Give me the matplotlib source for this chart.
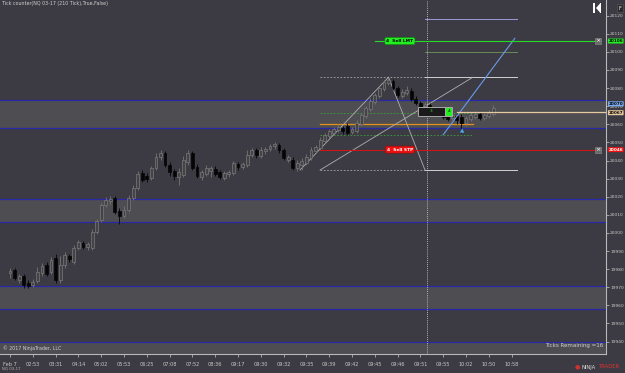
import numpy as np
import matplotlib.pyplot as plt
from matplotlib.patches import Rectangle, Polygon

# NQ 03-17, 210 tick bars
opens = [19977.75, 19979.5, 19974, 19976.25, 19972.25, 19971.25, 19973.5, 19977.75, 19982.25, 19978.5,
         19986, 19974, 19982.25, 19987.25, 19984, 19991.75, 19994.5, 19992.25, 19991.75, 20000.5,
         20007, 20015.5, 20017.5, 20019.25, 20012, 20009.25, 20012.5, 20019.25, 20024.75, 20033,
         20031.5, 20030.25, 20036, 20042, 20044.25, 20037.5, 20034.25, 20030.75, 20032, 20039.25,
         20044.25, 20036.5, 20030.75, 20032.5, 20034.25, 20035.25, 20033.5, 20030.25, 20032.5, 20033,
         20038, 20036.5, 20037.5, 20043, 20045.75, 20042.5, 20045.25, 20046.25, 20048, 20048.5,
         20045.75, 20040.25, 20040.25, 20036, 20037.5, 20038.5, 20041.5, 20045.25, 20047, 20050.75,
         20053.5, 20055.25, 20056.75, 20058, 20059, 20055.75, 20056.25, 20060.25, 20064.5, 20068.5,
         20072.25, 20075.5, 20079.5, 20082.75, 20084, 20080, 20075.5, 20077.25, 20078.5, 20074,
         20071.75, 20070, 20070.75, 20067.75, 20066.25, 20066.75, 20064.5, 20063.5, 20064.5, 20064,
         20060.75, 20063, 20064, 20065.75, 20063.5, 20064.5, 20065.75]
highs = [19980.5, 19980.5, 19977.25, 19977.25, 19974, 19974.5, 19981.25, 19983.5, 19984, 19986.75,
         19988.25, 19987.25, 19989.5, 19988.25, 19993.25, 19996, 19995.5, 19995, 20002, 20007.75,
         20016.5, 20019.75, 20020.5, 20020.5, 20013.75, 20015, 20021, 20026.5, 20034.25, 20034.75,
         20033, 20037, 20044.25, 20045.75, 20045.25, 20039.25, 20035.25, 20035.75, 20042.5, 20045.75,
         20045.25, 20038, 20034.75, 20037.5, 20037, 20037, 20034.75, 20034.25, 20034.75, 20039.75,
         20039.25, 20039.25, 20045.75, 20047, 20047, 20047.5, 20047.5, 20049, 20050.25, 20049.75,
         20047, 20043, 20042, 20040.25, 20041.5, 20043.5, 20047.5, 20048.5, 20053, 20055.25,
         20057.5, 20058.5, 20060.25, 20059, 20060.75, 20058.5, 20062.5, 20066.25, 20070.25, 20074.5,
         20077.25, 20081.25, 20084.5, 20085.5, 20085, 20081.25, 20079.5, 20081.25, 20080, 20075.5,
         20072.75, 20072.25, 20071.75, 20069, 20068.5, 20067.75, 20065.75, 20066.25, 20066.25, 20065.75,
         20064.5, 20066.75, 20067.25, 20066.75, 20066.25, 20067.75, 20070.75]
lows = [19975, 19974, 19972.25, 19969.5, 19969.5, 19970, 19972.25, 19976.25, 19976.25, 19977.25,
        19972.25, 19972.25, 19980.5, 19984, 19982.75, 19990.5, 19991, 19990.5, 19990.5, 19999.5,
        20006, 20014.25, 20016, 20010.5, 20005, 20008.25, 20011.5, 20018.25, 20023.75, 20028.25,
        20028.25, 20029.25, 20034.75, 20040.25, 20036.5, 20031.5, 20029.25, 20026.5, 20030.75, 20037.5,
        20034.75, 20030.25, 20029.25, 20031.5, 20030.75, 20031.5, 20029.75, 20029.25, 20030.75, 20032,
        20034.75, 20035.25, 20036.5, 20042, 20041.5, 20041.5, 20043.5, 20045.25, 20046.25, 20044,
        20040.25, 20039.25, 20034.75, 20034.25, 20034.75, 20037.5, 20040.25, 20044, 20045.75, 20049.75,
        20052.5, 20054, 20055.75, 20054.5, 20054, 20054.5, 20055.25, 20059, 20063.5, 20067.25,
        20071.25, 20074.5, 20078.5, 20081.75, 20079, 20075, 20074.5, 20076.25, 20072.75, 20070.75,
        20067.75, 20069, 20066.75, 20065, 20064.5, 20063, 20061.75, 20062.5, 20060.25, 20055.25,
        20059, 20061.75, 20063, 20062.5, 20062.5, 20063.5, 20064.5]
closes = [19979, 19975, 19976.25, 19971.25, 19970.75, 19973, 19978.5, 19981.75, 19977.25, 19985,
          19974, 19982.25, 19987.75, 19985.5, 19991.75, 19995, 19992.25, 19994, 20000.5, 20006.5,
          20015.5, 20018.25, 20018.75, 20011.5, 20009.25, 20012.5, 20019.25, 20024.75, 20032.5, 20029.25,
          20029.75, 20036, 20042, 20044.25, 20037.5, 20033.5, 20031.5, 20033.5, 20040.25, 20044.25,
          20036, 20031.5, 20033.5, 20036, 20036, 20032.5, 20030.75, 20033, 20033.5, 20038.5,
          20036.5, 20038, 20043, 20045.75, 20043, 20045.75, 20046.25, 20048, 20049, 20045.75,
          20041.5, 20042, 20036, 20038.5, 20039.75, 20042, 20045.75, 20047.5, 20051.25, 20054,
          20056.25, 20057.5, 20058.5, 20056.25, 20055.25, 20057.5, 20060.75, 20065, 20069, 20072.75,
          20076.25, 20080, 20083.5, 20084.5, 20080, 20076.25, 20077.75, 20079, 20074, 20071.75,
          20069.5, 20071.25, 20067.75, 20066.25, 20067.25, 20064, 20063, 20065, 20062.5, 20060.75,
          20063.5, 20065, 20065.75, 20063.5, 20065, 20066.25, 20069]

time_labels = ['Feb 7', '02:53', '03:31', '04:14', '05:02', '05:53', '06:25', '07:08', '07:52',
               '08:36', '09:17', '09:30', '09:32', '09:35', '09:39', '09:42', '09:45', '09:46',
               '09:51', '09:55', '10:02', '10:50', '10:58']
tick_bars = list(range(0, 111, 5))

# supply / demand zones (bottom, top)
zones = [(20058.0, 20073.5), (20006.0, 20018.75), (19958.0, 19970.75), (19900.0, 19939.5)]

# fibonacci drawing
fib_low, fib_high = 20034.75, 20086.0
fib_retr = [20066.25, 20054.25]
fib_mid = 20060.25
fib_ext = [(20118.25, '#9a9ad8'), (20100.0, '#6a8a5a')]

sell_lmt = 20106
sell_stp = 20046
avg_price = 20067
blue_level = 20070

BG = '#3c3b43'
ZONE = '#4e4e52'
NAVY = '#2828a8'

fig = plt.figure(figsize=(6.25, 3.73), dpi=100, facecolor=BG)
ax = fig.add_axes([0, 19 / 373, 606 / 625, 354 / 373], facecolor=BG)

for lo, hi in zones:
    ax.axhspan(lo, hi, color=ZONE, lw=0, zorder=0)
    ax.axhline(hi, color=NAVY, lw=0.9, zorder=1)
    if lo > 19920:
        ax.axhline(lo, color=NAVY, lw=0.9, zorder=1)

# candles
x = np.arange(len(opens))
o, h, l, c = map(np.array, (opens, highs, lows, closes))
up = c >= o
ax.vlines(x[up], l[up], h[up], color='#767676', lw=0.6, zorder=3)
ax.vlines(x[~up], l[~up], h[~up], color='#050505', lw=0.6, zorder=3)
ax.bar(x[up], c[up] - o[up], bottom=o[up], width=0.62, color='#444448',
       edgecolor='#7a7a7a', lw=0.5, zorder=4)
ax.bar(x[~up], o[~up] - c[~up], bottom=c[~up], width=0.62, color='#050505',
       edgecolor='#050505', lw=0.5, zorder=4)

# fib drawing
ax.plot([68, 91], [fib_high, fib_high], color='#a8a8a8', lw=0.6, ls=(0, (2, 2)), zorder=2)
ax.plot([68, 91], [fib_low, fib_low], color='#a8a8a8', lw=0.6, ls=(0, (2, 2)), zorder=2)
ax.plot([91, 111.2], [fib_high, fib_high], color='#d0d0d0', lw=0.7, zorder=2)
ax.plot([91, 111.2], [fib_low, fib_low], color='#d0d0d0', lw=0.7, zorder=2)
for lvl, col in fib_ext:
    ax.plot([91, 111.2], [lvl, lvl], color=col, lw=0.7, zorder=2)
for lvl in fib_retr:
    ax.plot([68, 101.5], [lvl, lvl], color='#3aa03a', lw=0.6, ls=(0, (2, 2)), zorder=2)
ax.plot([68, 101.5], [fib_mid, fib_mid], color='#e8901c', lw=0.9, zorder=2)
ax.plot([63.6, 83], [fib_low, fib_high], color='#b0b0b0', lw=0.6, zorder=2)
ax.plot([68, 101.5], [fib_low, fib_high], color='#b0b0b0', lw=0.6, zorder=2)
ax.plot([83, 91], [fib_high, fib_low], color='#b0b0b0', lw=0.6, zorder=2)

# trend lines
ax.plot([95, 110.7], [20054.25, 20107.5], color='#6a9ae8', lw=0.8, zorder=5)

# vertical now line
ax.axvline(91.4, color='#d8d8d8', lw=0.6, ls=(0, (1, 1.5)), zorder=2)

# order lines
ax.plot([80, 128.5], [sell_lmt, sell_lmt], color='#22dd22', lw=0.8, zorder=5)
ax.plot([68, 128.5], [sell_stp, sell_stp], color='#cc1515', lw=0.8, zorder=5)
ax.plot([98, 131], [avg_price, avg_price], color='#e8c9a0', lw=0.9, zorder=5)

ax.text(85.5, sell_lmt, '4  Sell LMT', fontsize=3.2, color='black', ha='center', va='center',
        fontweight='bold', zorder=6,
        bbox=dict(boxstyle='round,pad=0.35', fc='#22ee22', ec='#118811', lw=0.5))
ax.text(85.5, sell_stp, '4  Sell STP', fontsize=3.2, color='white', ha='center', va='center',
        fontweight='bold', zorder=6,
        bbox=dict(boxstyle='round,pad=0.35', fc='#ee1111', ec='#881111', lw=0.5))
for lvl in (sell_lmt, sell_stp):
    ax.text(129, lvl, '×', fontsize=4.5, color='white', ha='center', va='center', zorder=7,
            bbox=dict(boxstyle='square,pad=0.1', fc='#6a6a6a', ec='#909090', lw=0.4))

# position box
ax.add_patch(Rectangle((89.5, 20064.6), 5.9, 4.95, fc='#1a1a1a', ec='#a8a8a8', lw=0.7, zorder=7))
ax.add_patch(Rectangle((95.5, 20064.6), 1.5, 4.95, fc='#22ee22', ec='#a8a8a8', lw=0.7, zorder=7))
ax.text(92.45, 20067.1, '3', fontsize=3.2, color='#33dd33', ha='center', va='center', zorder=8)
ax.text(96.25, 20067.1, '4', fontsize=3.2, color='black', ha='center', va='center', zorder=8)
ax.text(99.2, 20056.5, '▲', fontsize=4, color='#4aa8f0', ha='center', va='center', zorder=7)

ax.set_xlim(-2.2, 130.7)
ax.set_ylim(19933.1, 20128.67)

for s in ('top', 'left'):
    ax.spines[s].set_visible(False)
for s in ('right', 'bottom'):
    ax.spines[s].set_color('#b8b8b8')
    ax.spines[s].set_linewidth(0.8)

ax.yaxis.tick_right()
ax.set_yticks(np.arange(19940, 20121, 10))
ax.set_yticklabels([str(v) for v in range(19940, 20121, 10)])
ax.tick_params(axis='y', colors='#c8c8c8', labelsize=3.2, length=2, width=0.5, pad=1)
ax.set_xticks(tick_bars)
ax.set_xticklabels(time_labels)
ax.tick_params(axis='x', colors='#c8c8c8', labelsize=3.6, length=2, width=0.5, pad=4)

# price markers on the axis (the two close ones are nudged apart, as the platform does)
for lvl, shift, fc, tc in ((sell_lmt, 0, '#22ee22', 'black'), (blue_level, 1.3, '#7aaaf0', 'black'),
                           (avg_price, -0.6, '#e8c9a0', 'black'), (sell_stp, 0, '#ee1111', 'white')):
    ax.text(1.004, lvl + shift, str(lvl), transform=ax.get_yaxis_transform(), fontsize=3.0,
            color=tc, ha='left', va='center', fontweight='bold', zorder=8, clip_on=False,
            bbox=dict(boxstyle='round,pad=0.12', fc=fc, ec='none'))

fig.text(2 / 625, 1 - 4 / 373, 'Tick counter(NQ 03-17 (210 Tick),True,False)', fontsize=3.4,
         color='#d0d0d0', va='center')
fig.text(3 / 625, 1 - 348 / 373, '© 2017 NinjaTrader, LLC', fontsize=3.4, color='#d0d0d0',
         va='center')
fig.text(603 / 625, 1 - 345 / 373, 'Ticks Remaining =16', fontsize=4, color='#d0d0d0',
         va='center', ha='right')
fig.text(2 / 625, 1 - 369 / 373, 'NQ 03-17', fontsize=2.8, color='#b0b0b0', va='center')
fig.text(620 / 625, 1 - 8 / 373, 'F', fontsize=3.6, color='white', ha='center', va='center',
         bbox=dict(boxstyle='square,pad=0.3', fc='#2a2a30', ec='#606060', lw=0.4))

# scroll-to-end icon drawn as shapes (no installed font has the glyph)
W, H = 625, 373
fig.patches.append(Rectangle((593 / W, 1 - 13 / H), 2 / W, 10 / H, fc='white', ec='none',
                             transform=fig.transFigure, figure=fig))
fig.patches.append(Polygon([(596 / W, 1 - 8 / H), (600 / W, 1 - 3.5 / H), (600 / W, 1 - 12.5 / H)],
                           closed=True, fc='white', ec='none', transform=fig.transFigure, figure=fig))
fig.patches.append(Rectangle((600 / W, 1 - 13 / H), 1.3 / W, 10 / H, fc='white', ec='none',
                             transform=fig.transFigure, figure=fig))

fig.text(577 / 625, 1 - 367 / 373, '●', fontsize=4.5, color='#d03030', va='center', ha='center')
fig.text(581 / 625, 1 - 367 / 373, 'NINJA', fontsize=3.8, color='#d8d8d8', va='center')
fig.text(599 / 625, 1 - 367 / 373, 'TRADER', fontsize=3.8, color='#e03030', va='center')

fig.savefig('out.png', dpi=100, facecolor=BG)
